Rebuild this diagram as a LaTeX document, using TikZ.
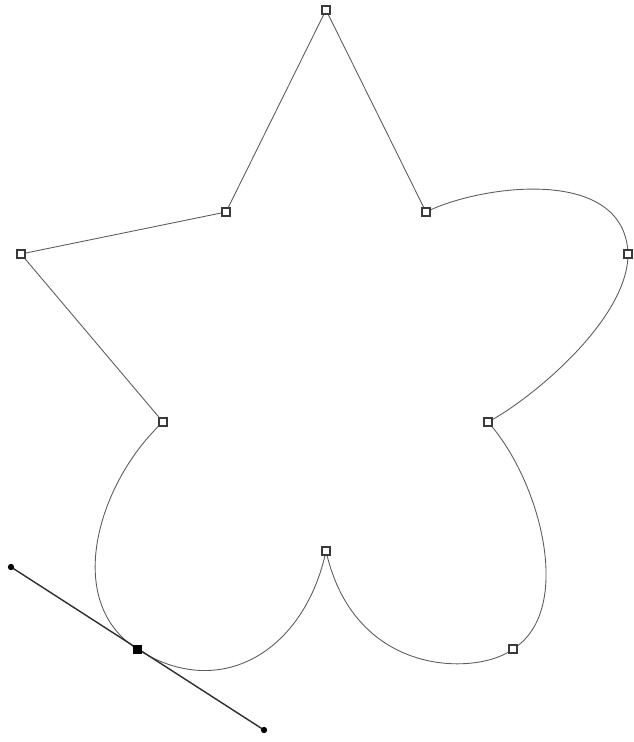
\documentclass[tikz,border=0pt]{standalone}
\usetikzlibrary{positioning}
\definecolor{pathcol}{HTML}{5C5C5C}
\definecolor{knotcol}{HTML}{3A3A3A}
\definecolor{handcol}{HTML}{2E2E2E}
\tikzset{
  knot/.style={draw=knotcol,fill=white,line width=0.9pt,minimum size=4.4pt,inner sep=0pt},
  selknot/.style={draw=black,fill=black,minimum size=4.6pt,inner sep=0pt},
  handend/.style={circle,fill=black,minimum size=3.6pt,inner sep=0pt},
}

\begin{document}
\begin{tikzpicture}[x=0.02cm,y=-0.02cm]
    \useasboundingbox (0,0) rectangle (634,742);
    % anchor points of the outline
    \coordinate (top) at (326,10);
    \coordinate (innerR) at (426,212);
    \coordinate (tipR) at (628,254);
    \coordinate (innerLR) at (488,422);
    \coordinate (tipLR) at (513,649);
    \coordinate (innerB) at (326,551);
    \coordinate (tipLL) at (137,649);
    \coordinate (innerLL) at (163,422);
    \coordinate (tipL) at (21,254);
    \coordinate (innerL) at (226,212);
    % direction handles of the selected point
    \coordinate (hA) at (11,567);
    \coordinate (hB) at (264,730);
    \draw[pathcol,line width=0.5pt] (top) -- (innerR)
      .. controls (480,185) and (625,165) .. (tipR)
      .. controls (628,320) and (530,400) .. (innerLR)
      .. controls (540,480) and (575,610) .. (tipLR)
      .. controls (480,675) and (355,680) .. (innerB)
      .. controls (305,650) and (221,703) .. (tipLL)
      .. controls (61,600) and (100,480) .. (innerLL)
      -- (tipL) -- (innerL) -- cycle;
    \draw[handcol,line width=0.8pt] (hA) -- (hB);
    \node[handend] (dotA) at (hA) {};
    \node[handend] (dotB) at (hB) {};
    \node[selknot] (sel) at (tipLL) {};
    \foreach \p in {top,innerR,tipR,innerLR,tipLR,innerB,innerLL,tipL,innerL}
      \node[knot] (k-\p) at (\p) {};
\end{tikzpicture}
\end{document}
